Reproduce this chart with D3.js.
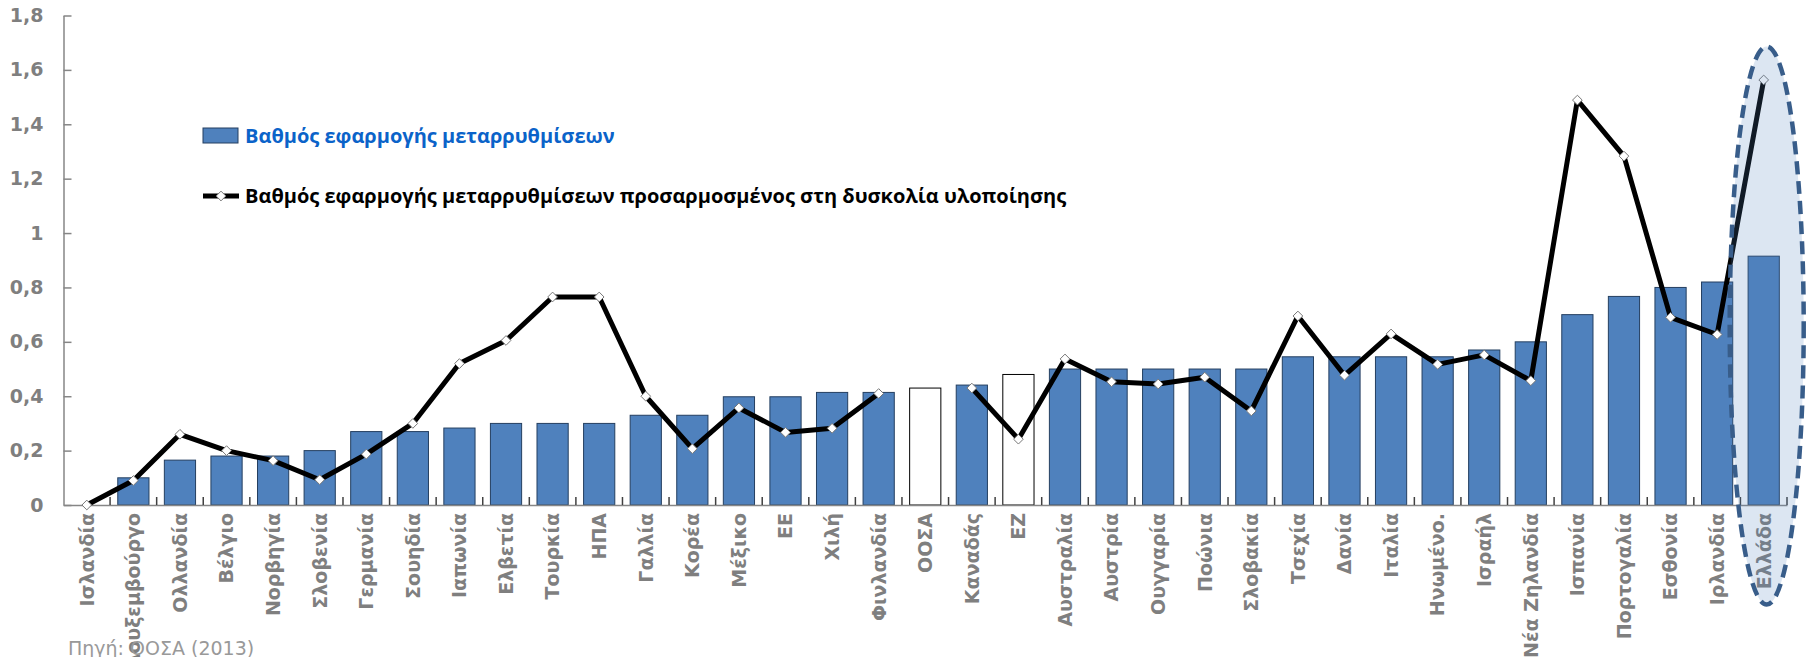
<!DOCTYPE html>
<html>
<head>
<meta charset="utf-8">
<script src="https://cdn.jsdelivr.net/npm/d3@7"></script>
<style>
  body { margin: 0; background: #fff; }
  svg { display: block; }
</style>
</head>
<body>
<div id="okvir"></div>
<script>
// categories (left to right)
const countries = ["Ισλανδία","Λουξεμβούργο","Ολλανδία","Βέλγιο","Νορβηγία","Σλοβενία","Γερμανία","Σουηδία","Ιαπωνία","Ελβετία","Τουρκία","ΗΠΑ","Γαλλία","Κορέα","Μέξικο","ΕΕ","Χιλή","Φινλανδία","ΟΟΣΑ","Καναδάς","ΕΖ","Αυστραλία","Αυστρία","Ουγγαρία","Ποώνια","Σλοβακία","Τσεχία","Δανία","Ιταλία","Ηνωμένο.","Ισραήλ","Νέα Ζηλανδία","Ισπανία","Πορτογαλία","Εσθονία","Ιρλανδία","Ελλάδα"]

// bars: degree of reform implementation
const barValues = [0,0.10,0.165,0.18,0.18,0.20,0.27,0.27,0.283,0.30,0.30,0.30,0.33,0.33,0.398,0.398,0.414,0.414,0.43,0.441,0.48,0.50,0.50,0.50,0.50,0.50,0.545,0.545,0.545,0.545,0.57,0.60,0.70,0.767,0.80,0.82,0.915]

// line: adjusted for difficulty (no value for OOSA)
const lineValues = [0,0.09,0.26,0.20,0.163,0.093,0.187,0.30,0.52,0.605,0.765,0.765,0.40,0.207,0.357,0.267,0.282,0.41,null,0.43,0.242,0.537,0.453,0.445,0.47,0.346,0.695,0.477,0.629,0.517,0.552,0.457,1.489,1.283,0.69,0.627,1.563]

// aggregates drawn as white bars
const whiteBars = ["ΟΟΣΑ","ΕΖ"]

const yTicks = [0,0.2,0.4,0.6,0.8,1,1.2,1.4,1.6,1.8]

const legendBar = "Βαθμός εφαρμογής μεταρρυθμίσεων"
const legendLine = "Βαθμός εφαρμογής μεταρρυθμίσεων προσαρμοσμένος στη δυσκολία υλοποίησης"
const source = "Πηγή: ΟΟΣΑ (2013)"
const highlight = "Ελλάδα"

const dataset = countries.map((c, i) => ({ country: c, bar: barValues[i], line: lineValues[i] }))

let dim = {
  width: 1812,
  height: 657,
  margin: { top: 15.5, right: 25, bottom: 152, left: 63.5 },
}
dim.innerW = dim.width - dim.margin.left - dim.margin.right
dim.innerH = dim.height - dim.margin.top - dim.margin.bottom

const svg = d3.select("#okvir").append("svg")
  .attr("width", dim.width)
  .attr("height", dim.height)

const g = svg.append("g")
  .attr("transform", `translate(${dim.margin.left},${dim.margin.top})`)

const x = d3.scaleBand()
  .domain(countries)
  .range([0, dim.innerW])
  .paddingInner(0.33)
  .paddingOuter(0.165)

const y = d3.scaleLinear()
  .domain([0, 1.8])
  .range([dim.innerH, 0])

const grey = "#7f7f7f"
const axisCol = "#868686"
const fmt = d3.formatLocale({ decimal: ",", thousands: ".", grouping: [3], currency: ["", "€"] }).format("~g")

// bars
g.selectAll(".bar")
  .data(dataset)
  .join("rect")
  .attr("class", "bar")
  .attr("x", d => x(d.country))
  .attr("y", d => y(d.bar))
  .attr("width", x.bandwidth())
  .attr("height", d => y(0) - y(d.bar))
  .attr("fill", d => whiteBars.includes(d.country) ? "#ffffff" : "#4f81bd")
  .attr("stroke", d => whiteBars.includes(d.country) ? "#000" : "#243f60")
  .attr("stroke-width", 1)
  .style("display", d => d.bar > 0 ? null : "none")

// y axis
const yAxis = d3.axisLeft(y)
  .tickValues(yTicks)
  .tickFormat(fmt)
  .tickSizeInner(-8)
  .tickSizeOuter(0)
  .tickPadding(20)

const yG = g.append("g").call(yAxis)
yG.select(".domain").attr("stroke", axisCol).attr("stroke-width", 1.5)
yG.selectAll(".tick line").attr("stroke", axisCol).attr("stroke-width", 1.5)
yG.selectAll(".tick text")
  .attr("fill", grey)
  .style("font-family", "DejaVu Sans")
  .style("font-weight", "bold")
  .style("font-size", "19px")

// x axis
const xAxis = d3.axisBottom(x).tickSize(0).tickPadding(8)
const xG = g.append("g")
  .attr("transform", `translate(0,${dim.innerH})`)
  .call(xAxis)
xG.select(".domain").attr("stroke", axisCol).attr("stroke-width", 1.5)
xG.selectAll(".tick text")
  .attr("fill", grey)
  .attr("text-anchor", "end")
  .attr("transform", "rotate(-90)")
  .attr("x", -8)
  .attr("y", 0)
  .attr("dy", "0.36em")
  .style("font-family", "DejaVu Sans")
  .style("font-weight", "bold")
  .style("font-size", "19px")

// category separators, pointing up
const gap = (x.step() - x.bandwidth()) / 2
const bounds = countries.map(c => x(c) - gap).concat([x(countries[countries.length - 1]) + x.bandwidth() + gap])
xG.selectAll(".sep")
  .data(bounds.slice(1))
  .join("line")
  .attr("class", "sep")
  .attr("x1", d => d).attr("x2", d => d)
  .attr("y1", 0).attr("y2", -8)
  .attr("stroke", "#404040")
  .attr("stroke-width", 1.5)

// line
const line = d3.line()
  .defined(d => d.line !== null)
  .x(d => x(d.country) + x.bandwidth() / 2)
  .y(d => y(d.line))

g.append("path")
  .datum(dataset)
  .attr("d", line)
  .attr("fill", "none")
  .attr("stroke", "#000")
  .attr("stroke-width", 5)
  .attr("stroke-linejoin", "round")

const diamond = d3.symbol().type(d3.symbolDiamond2).size(60)
g.selectAll(".marker")
  .data(dataset.filter(d => d.line !== null))
  .join("path")
  .attr("class", "marker")
  .attr("transform", d => `translate(${x(d.country) + x.bandwidth() / 2},${y(d.line)})`)
  .attr("d", diamond)
  .attr("fill", "#fff")
  .attr("stroke", "#777")
  .attr("stroke-width", 1)

// highlight ellipse round Greece
const gr = dataset.find(d => d.country === highlight)
g.append("ellipse")
  .attr("cx", x(gr.country) + x.bandwidth() / 2 + 3)
  .attr("cy", 310)
  .attr("rx", 37)
  .attr("ry", 279)
  .attr("fill", "#4f81bd")
  .attr("fill-opacity", 0.2)
  .attr("stroke", "#385d8a")
  .attr("stroke-width", 4.5)
  .attr("stroke-dasharray", "13,7")

// legend
const legend = svg.append("g")
legend.append("rect")
  .attr("x", 203).attr("y", 128)
  .attr("width", 35).attr("height", 15)
  .attr("fill", "#4f81bd")
  .attr("stroke", "#243f60")
legend.append("text")
  .attr("x", 245).attr("y", 143)
  .attr("fill", "#0b63c9")
  .style("font-family", "Open Sans")
  .style("font-weight", "bold")
  .style("font-size", "20px")
  .text(legendBar)

legend.append("line")
  .attr("x1", 203).attr("x2", 239)
  .attr("y1", 196).attr("y2", 196)
  .attr("stroke", "#000").attr("stroke-width", 5)
legend.append("path")
  .attr("transform", "translate(221,196)")
  .attr("d", diamond)
  .attr("fill", "#fff").attr("stroke", "#777")
legend.append("text")
  .attr("x", 245).attr("y", 203)
  .attr("fill", "#000")
  .style("font-family", "Open Sans")
  .style("font-weight", "bold")
  .style("font-size", "20px")
  .text(legendLine)

// source
svg.append("text")
  .attr("x", 68).attr("y", 655)
  .attr("fill", "#999")
  .style("font-family", "DejaVu Sans")
  .style("font-size", "19px")
  .text(source)
</script>
</body>
</html>
